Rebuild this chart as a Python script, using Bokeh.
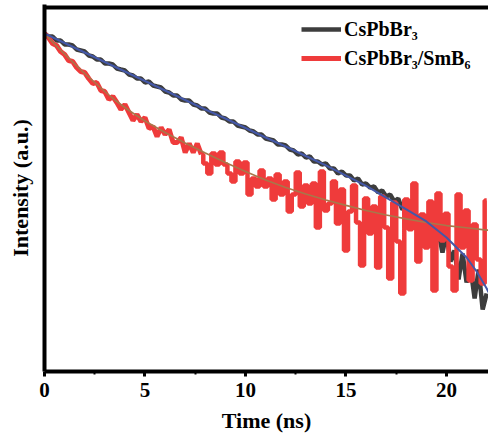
from bokeh.plotting import figure
from bokeh.models import FixedTicker, Legend, LegendItem, Range1d
from bokeh.embed import file_html
from bokeh.resources import INLINE

# ---------------- data ----------------
time_step_ns = 0.2  # channel spacing used when reading the curves

cspbbr3_counts = [
    10000, 9333, 9333, 8511, 8511, 7762, 7762, 7586, 6918, 6761,
    6607, 6026, 5888, 5495, 5495, 5012, 5012, 4898, 4467, 4365,
    4266, 3890, 3802, 3548, 3548, 3236, 3311, 3020, 2951, 2884,
    2630, 2570, 2399, 2399, 2188, 2138, 2138, 1950, 1905, 1778,
    1778, 1622, 1585, 1585, 1445, 1413, 1318, 1318, 1202, 1175,
    1148, 1072, 1047, 977, 977, 891, 871, 851, 776, 776,
    759, 692, 676, 617, 631, 575, 589, 525, 525, 490,
    501, 447, 447, 398, 417, 380, 380, 339, 355, 309,
    316, 288, 295, 257, 269, 234, 245, 209, 224, 174,
    186, 138, 170, 112, 145, 105, 138, 81.3, 105, 64.6,
    100, 52.5, 67.6, 34.7, 63.1, 32.4, 44.7, 22.4, 43.7, 17.4,
    25.1,
]

smb6_counts = [
    10000, 9120, 7943, 7586, 6607, 6166, 5370, 5248, 4571, 4169,
    4074, 3548, 3162, 3236, 2692, 2630, 2188, 2344, 2042, 1738,
    1950, 1622, 1349, 1549, 1318, 1445, 1122, 1175, 933, 1148,
    977, 1096, 813, 813, 912, 646, 794, 646, 794, 617,
    501, 398, 631, 490, 646, 490, 398, 331, 525, 398,
    513, 245, 355, 295, 427, 295, 355, 219, 389, 245,
    331, 166, 245, 407, 186, 302, 200, 316, 115, 417,
    170, 200, 331, 126, 275, 67.6, 166, 302, 129, 47.9,
    224, 100, 186, 45.7, 234, 115, 35.5, 204, 83.2, 25.1,
    219, 110, 316, 52.5, 155, 72.4, 209, 26.9, 251, 85.1,
    158, 46.8, 26.9, 245, 72.4, 170, 33.9, 123, 55.0, 31.6,
    214,
]

fit_cspbbr3_time = [0, 1, 2, 3, 4, 5, 6, 7, 8, 9, 10, 11, 12, 13, 14, 15,
                    16, 17, 18, 19, 20, 21, 21.5, 22, 22.1]
fit_cspbbr3_counts = [10000, 8035, 6457, 5188, 4169, 3350, 2692, 2163, 1738,
                      1413, 1135, 912, 741, 596, 479, 380, 299, 229, 174, 132,
                      91.2, 57.5, 41.7, 28.2, 25.7]

fit_smb6_time = [0, 0.5, 1, 1.5, 2, 2.5, 3, 3.5, 4, 4.5, 5, 6, 7, 8, 9, 10,
                 11, 12, 13, 14, 15, 16, 17, 18, 19, 20, 21, 22, 22.1]
fit_smb6_counts = [10000, 7852, 6237, 4955, 3981, 3236, 2630, 2163, 1820,
                   1549, 1334, 1023, 804, 638, 513, 417, 343, 288, 248, 216,
                   191, 170, 153, 140, 129, 120, 114, 108, 108]

x_tick_values = [0, 5, 10, 15, 20]
x_minor_tick_values = [2.5, 7.5, 12.5, 17.5]
series_names = ["CsPbBr\u2083", "CsPbBr\u2083/SmB\u2086"]

cspbbr3_time = [round(i * time_step_ns, 1) for i in range(len(cspbbr3_counts))]
smb6_time = [round(i * time_step_ns, 1) for i in range(len(smb6_counts))]

# ---------------- figure ----------------
FONT = "Liberation Serif"
X_START, X_END = 0, 22.09
Y_START, Y_END = 4.169, 19498
TOP_BORDER = 18197  # level of the closed top edge of the graph box

p = figure(
    width=488, height=439,
    x_range=Range1d(X_START, X_END),
    y_range=Range1d(Y_START, Y_END),
    y_axis_type="log",
    output_backend="svg",
    toolbar_location=None,
    min_border_left=44, min_border_right=0, min_border_top=4, min_border_bottom=68,
)
p.outline_line_color = None
p.xgrid.visible = False
p.ygrid.visible = False
p.background_fill_color = "white"
p.border_fill_color = "white"

# x axis
xa = p.xaxis[0]
xa.ticker = FixedTicker(ticks=x_tick_values, minor_ticks=x_minor_tick_values)
xa.axis_label = "Time (ns)"
xa.axis_line_width = 4
xa.axis_line_color = "black"
xa.major_tick_line_width = 3
xa.major_tick_out = 5
xa.major_tick_in = 0
xa.minor_tick_line_width = 2
xa.minor_tick_out = 3
xa.minor_tick_in = 0
xa.major_label_standoff = 6
xa.axis_label_standoff = 8
xa.major_label_text_font = FONT
xa.major_label_text_font_style = "bold"
xa.major_label_text_font_size = "21px"
xa.major_label_text_color = "black"
xa.axis_label_text_font = FONT
xa.axis_label_text_font_style = "bold"
xa.axis_label_text_font_size = "22px"
xa.axis_label_text_color = "black"

# y axis: no ticks, no labels
ya = p.yaxis[0]
ya.ticker = FixedTicker(ticks=[])
ya.axis_label = "Intensity (a.u.)"
ya.axis_line_width = 4
ya.axis_line_color = "black"
ya.major_tick_line_color = None
ya.minor_tick_line_color = None
ya.major_label_standoff = 0
ya.axis_label_standoff = 12
ya.axis_label_text_font = FONT
ya.axis_label_text_font_style = "bold"
ya.axis_label_text_font_size = "22px"
ya.axis_label_text_color = "black"

# top edge of the box, drawn a little inside the frame as an ordinary glyph
p.line([X_START, X_END], [TOP_BORDER, TOP_BORDER], line_color="black",
       line_width=4)

# ---------------- curves ----------------
SPLIT = 40  # smooth early part drawn as a line, noisy tail as steps
r_black = p.line(cspbbr3_time, cspbbr3_counts, line_color="#3d3d3d",
                 line_width=4.5)
r_red = p.line(smb6_time[:SPLIT], smb6_counts[:SPLIT], line_color="#EF3B3B",
               line_width=5)
r_red_tail = p.step(smb6_time[SPLIT - 1:], smb6_counts[SPLIT - 1:], mode="center",
                    line_color="#EF3B3B", line_width=4.5)
p.line(fit_smb6_time, fit_smb6_counts, line_color="#A8774A", line_width=1.6)
p.line(fit_cspbbr3_time, fit_cspbbr3_counts, line_color="#4458A8", line_width=2)

legend = Legend(
    items=[LegendItem(label=series_names[0], renderers=[r_black]),
           LegendItem(label=series_names[1], renderers=[r_red])],
    location=(257, 301),
    glyph_width=40, glyph_height=24, label_height=24,
    spacing=5, padding=0, margin=0, label_standoff=3,
    label_text_font=FONT, label_text_font_style="bold",
    label_text_font_size="20px", label_text_color="black",
    background_fill_alpha=0, border_line_color=None,
)
p.add_layout(legend)

open("out.html", "w").write(file_html(p, INLINE))
